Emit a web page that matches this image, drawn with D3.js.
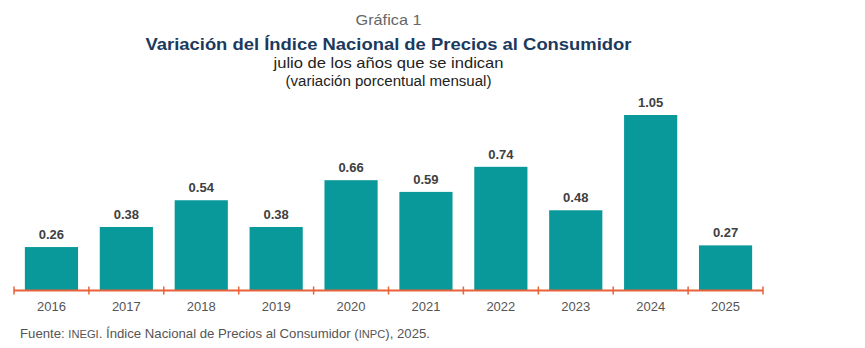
<html lang="es">
<head>
    <meta charset="UTF-8">
    <title>Gráfica 1</title>
    <script src="https://d3js.org/d3.v7.min.js"></script>
    <style>
        body { margin: 0; background: #fff; font-family: "Liberation Sans", Arial, sans-serif; }
    </style>
</head>
<body>
<div id="grafico"></div>
<script>
    // datos: julio de cada año, variación porcentual mensual
    var years = ["2016", "2017", "2018", "2019", "2020", "2021", "2022", "2023", "2024", "2025"];
    var values = [0.26, 0.38, 0.54, 0.38, 0.66, 0.59, 0.74, 0.48, 1.05, 0.27];

    var width = 865, height = 348;
    var margin = {left: 14, right: 102, top: 115, bottom: 58};
    var baseY = height - margin.bottom + 0.5;

    var svg = d3.select("#grafico").append("svg")
        .attr("width", width)
        .attr("height", height);

    var x = d3.scaleBand()
        .domain(years)
        .range([margin.left, width - margin.right])
        .paddingInner(0.29)
        .paddingOuter(0.145);

    var y = d3.scaleLinear()
        .domain([0, 1.05])
        .range([baseY, margin.top]);

    // titulos (el original viene algo ensanchado, se ajusta con textLength)
    var cx = (margin.left + width - margin.right) / 2;
    function titulo(txt, yy, size, len, color, bold) {
        svg.append("text").attr("x", cx).attr("y", yy).attr("text-anchor", "middle")
            .attr("font-size", size).attr("fill", color)
            .attr("font-weight", bold ? "bold" : "normal")
            .attr("textLength", len).attr("lengthAdjust", "spacingAndGlyphs")
            .text(txt);
    }
    titulo("Gráfica 1", 25, 15, 66, "#666", false);
    titulo("Variación del Índice Nacional de Precios al Consumidor", 50, 17, 486, "#1b3a5e", true);
    titulo("julio de los años que se indican", 68, 15, 230, "#222", false);
    titulo("(variación porcentual mensual)", 86, 14, 206, "#222", false);

    // barras
    svg.selectAll("rect.barra")
        .data(values)
        .enter().append("rect")
        .attr("class", "barra")
        .attr("x", function (d, i) { return x(years[i]); })
        .attr("y", function (d) { return y(d); })
        .attr("width", x.bandwidth())
        .attr("height", function (d) { return baseY - y(d); })
        .attr("fill", "#0a999a");

    svg.selectAll("text.valor")
        .data(values)
        .enter().append("text")
        .attr("class", "valor")
        .attr("x", function (d, i) { return x(years[i]) + x.bandwidth() / 2; })
        .attr("y", function (d) { return y(d) - 8; })
        .attr("text-anchor", "middle")
        .attr("font-size", 13)
        .attr("font-weight", "bold")
        .attr("fill", "#404040")
        .text(function (d) { return d.toFixed(2); });

    // eje x
    var eje = svg.append("g").attr("transform", "translate(0," + baseY + ")");
    eje.append("line")
        .attr("x1", margin.left).attr("x2", width - margin.right)
        .attr("stroke", "#e8623a").attr("stroke-width", 2);
    var step = x.step();
    var bordes = years.map(function (d) { return x(d) - x.paddingInner() * step / 2; });
    bordes.push(width - margin.right);
    eje.selectAll("line.tick")
        .data(bordes)
        .enter().append("line")
        .attr("class", "tick")
        .attr("x1", function (d) { return d; }).attr("x2", function (d) { return d; })
        .attr("y1", -4).attr("y2", 4)
        .attr("stroke", "#e8623a").attr("stroke-width", 1.5);
    eje.selectAll("text.anio")
        .data(years)
        .enter().append("text")
        .attr("class", "anio")
        .attr("x", function (d) { return x(d) + x.bandwidth() / 2; })
        .attr("y", 20.5)
        .attr("text-anchor", "middle")
        .attr("font-size", 13)
        .attr("fill", "#555")
        .text(function (d) { return d; });

    // fuente
    var fuente = svg.append("text").attr("x", 20).attr("y", 338)
        .attr("font-size", 13).attr("fill", "#555")
        .attr("textLength", 410).attr("lengthAdjust", "spacingAndGlyphs");
    fuente.append("tspan").text("Fuente: ");
    fuente.append("tspan").attr("font-size", 11).text("INEGI");
    fuente.append("tspan").text(". Índice Nacional de Precios al Consumidor (");
    fuente.append("tspan").attr("font-size", 11).text("INPC");
    fuente.append("tspan").text("), 2025.");
</script>
</body>
</html>
